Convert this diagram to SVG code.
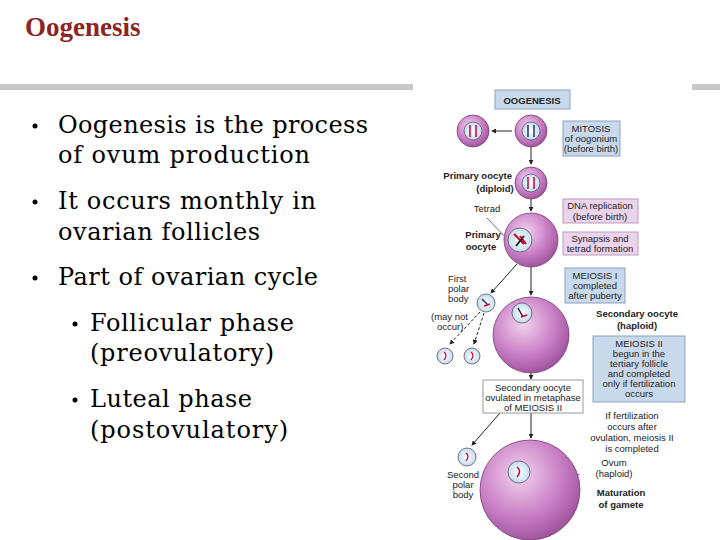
<svg xmlns="http://www.w3.org/2000/svg" width="720" height="540" viewBox="0 0 720 540">
<defs>
<radialGradient id="cg" cx="0.4" cy="0.35" r="0.7"><stop offset="0" stop-color="#f3d2f0"/><stop offset="0.6" stop-color="#c87ec4"/><stop offset="1" stop-color="#9a4f98"/></radialGradient>
<radialGradient id="ng" cx="0.5" cy="0.5" r="0.6"><stop offset="0" stop-color="#ffffff"/><stop offset="1" stop-color="#b9d4ea"/></radialGradient>
<marker id="ah" viewBox="0 0 6 6" refX="5" refY="3" markerWidth="5" markerHeight="5" orient="auto"><path d="M0,0L6,3L0,6z" fill="#222"/></marker>
</defs>
<style>
.f{font-family:"Liberation Sans",Arial,sans-serif;font-size:9.5px;fill:#222}
.b{font-weight:bold}
.cell{fill:url(#cg);stroke:#7a3a78;stroke-width:0.8}
.nuc{fill:url(#ng);stroke:#556;stroke-width:0.8}
.blue{fill:#c9d9ec;stroke:#8aa3c0;stroke-width:1}
.pink{fill:#ecd5ec;stroke:#b99ab9;stroke-width:1}
.ln{stroke:#222;stroke-width:1;fill:none;marker-end:url(#ah)}
.dl{stroke:#222;stroke-width:1;fill:none;stroke-dasharray:3,2;marker-end:url(#ah)}
</style>
<rect width="720" height="540" fill="#fff"/>
<text x="25" y="36" font-family="Liberation Serif,serif" font-size="27" font-weight="bold" fill="#8c2424">Oogenesis</text>
<rect x="0" y="84" width="413" height="6" fill="#c8c8c8"/>
<rect x="692" y="84" width="28" height="6" fill="#c8c8c8"/>
<g id="bullets" font-family="DejaVu Serif, serif" font-size="24" fill="#000">
<circle cx="35" cy="126" r="2.5"/>
<text x="58" y="133" textLength="310">Oogenesis is the process</text>
<text x="58" y="163" textLength="252">of ovum production</text>
<circle cx="35" cy="202" r="2.5"/>
<text x="58" y="209" textLength="258">It occurs monthly in</text>
<text x="58" y="240" textLength="202">ovarian follicles</text>
<circle cx="35" cy="278" r="2.5"/>
<text x="58" y="285" textLength="260">Part of ovarian cycle</text>
<circle cx="75" cy="324" r="2.5"/>
<text x="90" y="331" textLength="204">Follicular phase</text>
<text x="90" y="361" textLength="184">(preovulatory)</text>
<circle cx="75" cy="400" r="2.5"/>
<text x="90" y="407" textLength="162">Luteal phase</text>
<text x="90" y="438" textLength="198">(postovulatory)</text>
</g>
<g id="connectors">
<line class="ln" x1="512" y1="131" x2="492" y2="131"/>
<line class="ln" x1="531" y1="146" x2="531" y2="164"/>
<line class="ln" x1="531" y1="199" x2="531" y2="211"/>
<line class="ln" x1="517" y1="264" x2="491" y2="293"/>
<line class="ln" x1="531" y1="267" x2="531" y2="295"/>
<line class="dl" x1="480" y1="312" x2="450" y2="344"/>
<line class="dl" x1="484" y1="313" x2="474" y2="344"/>
<line class="ln" x1="531" y1="373" x2="531" y2="379"/>
<line class="ln" x1="500" y1="413" x2="472" y2="445"/>
<line class="ln" x1="531" y1="413" x2="531" y2="438"/>
<line x1="487" y1="218" x2="506" y2="238" stroke="#333" stroke-width="0.7"/>
<line x1="580" y1="474" x2="566" y2="479" stroke="#333" stroke-width="0.7"/>
</g>
<g id="title-box"><rect x="495" y="90" width="75" height="19" class="blue"/><text class="f b" x="532" y="103.5" text-anchor="middle" font-size="10">OOGENESIS</text></g>
<g id="oogonium1"><circle class="cell" cx="473" cy="131" r="16"/><circle class="nuc" cx="473" cy="131" r="9"/><path d="M470,125v12M476,125v12" stroke="#c03" stroke-width="1.5"/></g>
<g id="oogonium2"><circle class="cell" cx="531" cy="131" r="16"/><circle class="nuc" cx="531" cy="131" r="9"/><path d="M528,125v12M534,125v12" stroke="#236" stroke-width="1.5"/></g>
<g id="mitosis"><rect x="563" y="121" width="57" height="35" class="blue"/><text class="f" text-anchor="middle" x="591" y="132">MITOSIS</text><text class="f" text-anchor="middle" x="591" y="142">of oogonium</text><text class="f" text-anchor="middle" x="591" y="152">(before birth)</text></g>
<g id="primary1"><circle class="cell" cx="531" cy="183" r="16"/><circle class="nuc" cx="531" cy="183" r="9"/><path d="M528,177v12M534,177v12" stroke="#c03" stroke-width="1.5"/>
<text class="f b" x="512" y="179" text-anchor="end">Primary oocyte</text><text class="f b" x="495" y="192" text-anchor="middle">(diploid)</text></g>
<text class="f" x="487" y="212" text-anchor="middle">Tetrad</text>
<g id="dna"><rect x="563" y="199" width="75" height="24" class="pink"/><text class="f" text-anchor="middle" x="600" y="209">DNA replication</text><text class="f" text-anchor="middle" x="600" y="220">(before birth)</text></g>
<g id="synapsis"><rect x="563" y="232" width="75" height="23" class="pink"/><text class="f" text-anchor="middle" x="600" y="242">Synapsis and</text><text class="f" text-anchor="middle" x="600" y="252">tetrad formation</text></g>
<g id="primary2"><circle class="cell" cx="531" cy="240" r="27"/><circle class="nuc" cx="520" cy="240" r="12"/><path d="M514,234l10,10M520,236l6,8" stroke="#c03" stroke-width="2"/><path d="M516,246l8,-10" stroke="#222" stroke-width="2"/>
<text class="f b" x="483" y="238" text-anchor="middle">Primary</text><text class="f b" x="481" y="250" text-anchor="middle">oocyte</text></g>
<g id="meiosis1"><rect x="565" y="268" width="60" height="35" class="blue"/><text class="f" text-anchor="middle" x="595" y="279">MEIOSIS I</text><text class="f" text-anchor="middle" x="595" y="289">completed</text><text class="f" text-anchor="middle" x="595" y="299">after puberty</text></g>
<g id="polar1"><circle class="nuc" cx="486" cy="303" r="9"/><path d="M482,299l6,6" stroke="#236" stroke-width="1.5"/><path d="M484,306l6,-2" stroke="#c03" stroke-width="1.5"/>
<text class="f" x="448" y="282">First</text><text class="f" x="448" y="292">polar</text><text class="f" x="448" y="302">body</text></g>
<text class="f" x="431" y="320">(may not</text><text class="f" x="437" y="330">occur)</text>
<g id="pb-a"><circle class="nuc" cx="445" cy="356" r="8"/><path d="M444,352q4,3 0,8" stroke="#c03" stroke-width="1.2" fill="none"/></g>
<g id="pb-b"><circle class="nuc" cx="472" cy="356" r="8"/><path d="M471,352q4,3 0,8" stroke="#c03" stroke-width="1.2" fill="none"/></g>
<g id="secondary"><circle class="cell" cx="531" cy="335" r="38"/><circle class="nuc" cx="522" cy="313" r="10"/><path d="M518,308l5,9" stroke="#222" stroke-width="1.5"/><path d="M521,317l6,-2" stroke="#c03" stroke-width="1.5"/>
<text class="f b" x="637" y="317" text-anchor="middle">Secondary oocyte</text><text class="f b" x="637" y="329" text-anchor="middle">(haploid)</text></g>
<g id="meiosis2"><rect x="593" y="336" width="92" height="66" class="blue"/>
<text class="f" text-anchor="middle" x="639" y="347">MEIOSIS II</text><text class="f" text-anchor="middle" x="639" y="357">begun in the</text><text class="f" text-anchor="middle" x="639" y="367">tertiary follicle</text><text class="f" text-anchor="middle" x="639" y="377">and completed</text><text class="f" text-anchor="middle" x="639" y="387">only if fertilization</text><text class="f" text-anchor="middle" x="639" y="397">occurs</text></g>
<g id="ovulated"><rect x="483" y="380" width="100" height="33" fill="#fff" stroke="#999"/><text class="f" text-anchor="middle" x="533" y="391">Secondary oocyte</text><text class="f" text-anchor="middle" x="533" y="401">ovulated in metaphase</text><text class="f" text-anchor="middle" x="533" y="411">of MEIOSIS II</text></g>
<g id="fert"><text class="f" text-anchor="middle" x="632" y="419">If fertilization</text><text class="f" text-anchor="middle" x="632" y="430">occurs after</text><text class="f" text-anchor="middle" x="632" y="441">ovulation, meiosis II</text><text class="f" text-anchor="middle" x="632" y="452">is completed</text></g>
<g id="polar2"><circle class="nuc" cx="467" cy="457" r="9"/><path d="M466,453q4,3 0,8" stroke="#c03" stroke-width="1.2" fill="none"/>
<text class="f" x="463" y="478" text-anchor="middle">Second</text><text class="f" x="463" y="488" text-anchor="middle">polar</text><text class="f" x="463" y="498" text-anchor="middle">body</text></g>
<g id="ovum"><circle class="cell" cx="530" cy="490" r="50"/><circle class="nuc" cx="519" cy="472" r="11"/><path d="M517,467q5,4 0,10" stroke="#c03" stroke-width="1.5" fill="none"/>
<text class="f" x="614" y="466" text-anchor="middle">Ovum</text><text class="f" x="614" y="477" text-anchor="middle">(haploid)</text>
<text class="f b" x="621" y="496" text-anchor="middle">Maturation</text><text class="f b" x="621" y="508" text-anchor="middle">of gamete</text></g>
</svg>
